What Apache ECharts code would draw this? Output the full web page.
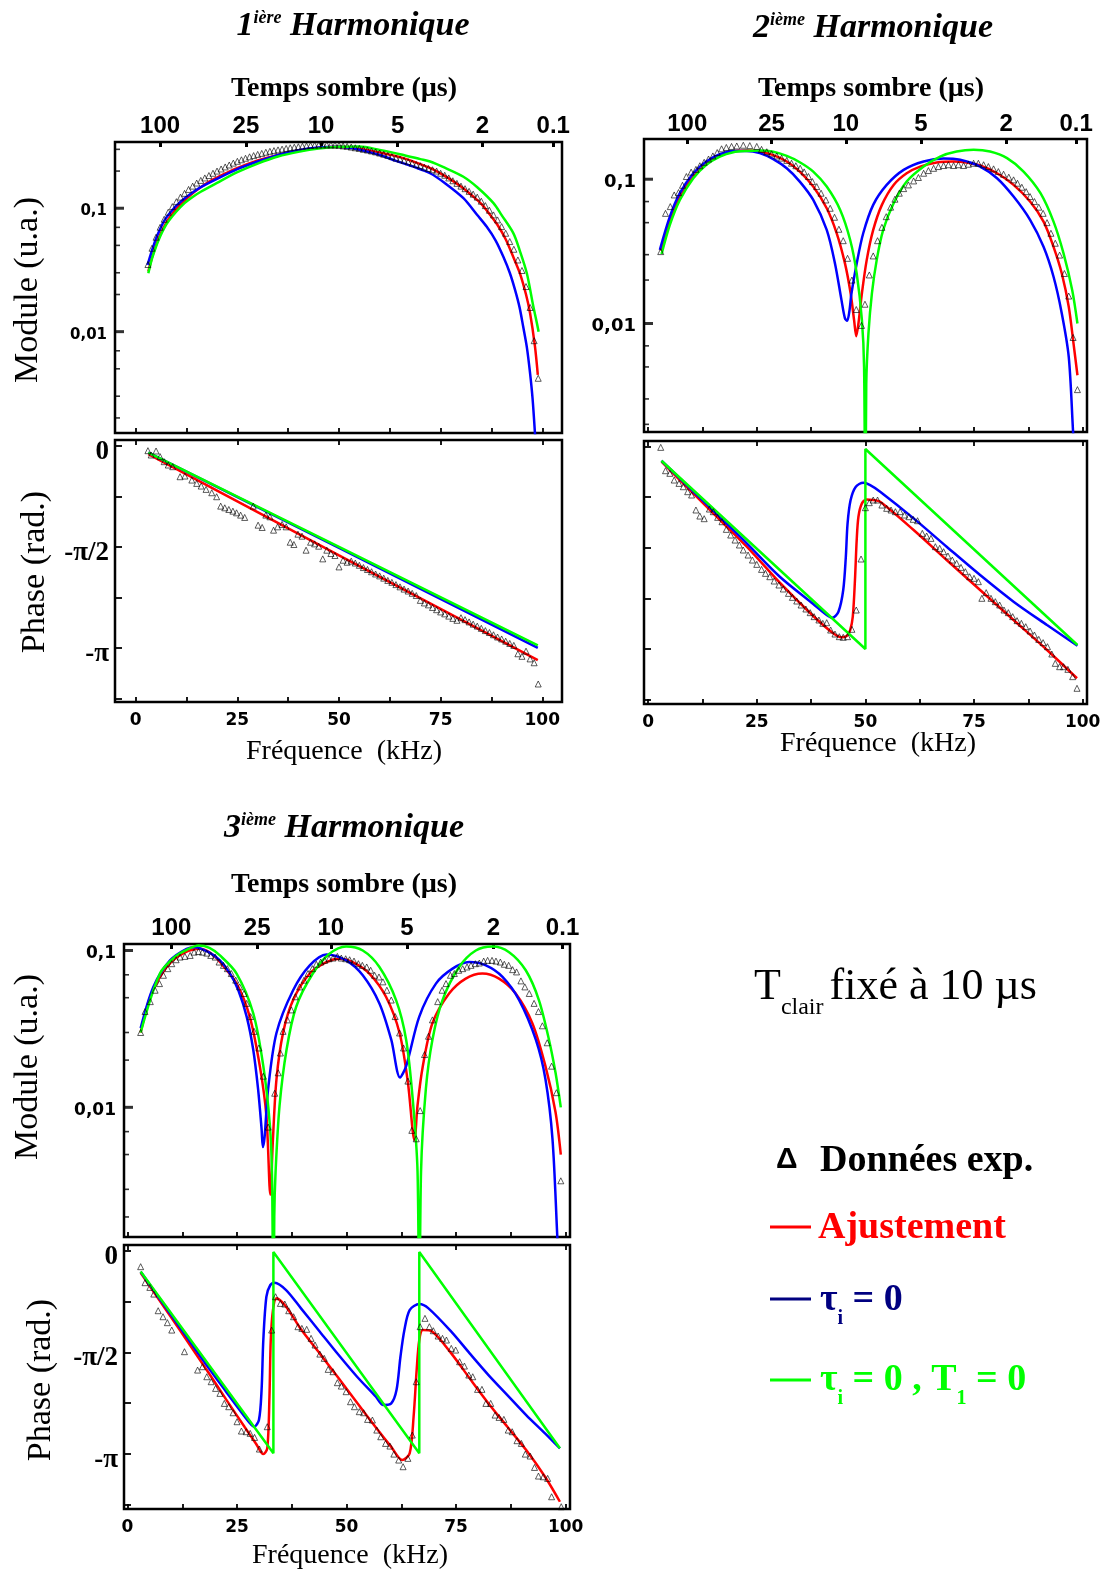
<!DOCTYPE html>
<html>
<head>
<meta charset="utf-8">
<title>Harmoniques</title>
<script src="https://cdn.jsdelivr.net/npm/echarts/dist/echarts.min.js"></script>
<style>html,body{margin:0;padding:0;background:#fff}#c{width:1109px;height:1569px}</style>
</head>
<body>
<div id="c"></div>
<script>
// ---------------- DATA ----------------
const FREQ_LABEL_TICKS = [0, 25, 50, 75, 100];
const FREQ_MINOR_TICKS = [0, 12.5, 25, 37.5, 50, 62.5, 75, 87.5, 100];
const PHASE_TICKS = [0, -Math.PI/4, -Math.PI/2, -3*Math.PI/4, -Math.PI, -5*Math.PI/4];
const PHASE_LABEL_VALUES = [0, -Math.PI/2, -Math.PI];
const PHASE_LABELS = ['0', '-π/2', '-π'];
const MODULE_LABEL_VALUES = [0.1, 0.01];
const MODULE_LABELS = ['0,1', '0,01'];
const MODULE_MINOR_TICKS = [0.002,0.003,0.005,0.007,0.01,0.02,0.03,0.05,0.07,0.1,0.2,0.3];
const TIME_LABELS = ['100','25','10','5','2','0.1'];
const h1TimeTickKHz = [6.0, 27.1, 45.6, 64.4, 85.3, 102.7];
const h2TimeTickKHz = [9.0, 28.4, 45.5, 62.8, 82.4, 98.5];
const h3TimeTickKHz = [10.0, 29.6, 46.4, 63.8, 83.5, 99.3];

// 1st harmonic - module
const h1ModData = [[3,0.035],[4,0.0474],[5,0.0582],[6,0.0701],[7,0.0814],[8,0.0928],[9,0.103],[10,0.113],[11,0.123],[12,0.132],[13,0.142],[14,0.151],[15,0.160],[16,0.168],[17,0.176],[18,0.184],[19,0.192],[20,0.200],[21,0.208],[22,0.216],[23,0.224],[24,0.232],[25,0.240],[26,0.247],[27,0.254],[28,0.261],[29,0.267],[30,0.273],[31,0.278],[32,0.284],[33,0.289],[34,0.293],[35,0.297],[36,0.301],[37,0.305],[38,0.309],[39,0.312],[40,0.315],[41,0.318],[42,0.320],[43,0.322],[44,0.324],[45,0.325],[46,0.326],[47,0.326],[48,0.326],[49,0.325],[50,0.323],[51,0.320],[52,0.317],[53,0.313],[54,0.309],[55,0.305],[56,0.300],[57,0.296],[58,0.291],[59,0.286],[60,0.280],[61,0.274],[62,0.268],[63,0.262],[64,0.255],[65,0.250],[66,0.244],[67,0.238],[68,0.232],[69,0.226],[70,0.221],[71,0.215],[72,0.210],[73,0.205],[74,0.200],[75,0.192],[76,0.185],[77,0.176],[78,0.167],[79,0.159],[80,0.151],[81,0.144],[82,0.137],[83,0.130],[84,0.123],[85,0.114],[86,0.105],[87,0.0963],[88,0.0883],[89,0.0804],[90,0.0710],[91,0.0627],[92,0.0537],[93,0.0465],[94,0.0381],[95,0.0313],[96,0.0232],[97,0.0157],[98,0.00845],[99,0.00419]];
const h1ModFit = [[3.1,0.0307],[4,0.040],[5,0.0505],[6,0.061],[7,0.071],[8,0.081],[9,0.090],[10,0.099],[12,0.1154],[14,0.1323],[16,0.148],[18,0.1635],[20,0.1772],[23,0.1983],[26,0.2178],[30,0.2434],[35,0.2706],[40,0.2935],[45,0.3084],[50,0.3142],[55,0.3040],[60,0.283],[65,0.2592],[70,0.228],[73,0.2071],[76,0.1829],[80,0.1499],[83,0.1243],[85,0.1084],[87,0.0900],[89,0.0732],[91,0.0561],[93,0.0393],[94.5,0.0297],[96,0.0200],[97,0.0141],[98.2,0.0076],[98.9,0.00446]];
const h1ModTau = [[2.9,0.0347],[4,0.0455],[5,0.057],[6,0.068],[7,0.079],[8,0.088],[10,0.105],[12,0.120],[14,0.134],[16,0.148],[20,0.1729],[25,0.2071],[30,0.239],[35,0.2706],[40,0.2953],[45,0.3103],[50,0.3142],[55,0.298],[60,0.270],[64,0.242],[68.3,0.217],[72.4,0.192],[76,0.160],[80.6,0.1205],[84,0.088],[86.3,0.071],[88.5,0.055],[90.4,0.0406],[92,0.030],[93.3,0.0218],[94.4,0.0158],[95.3,0.011],[96.2,0.0075],[97.0,0.0046],[97.6,0.0029],[98.2,0.0015],[98.5,0.001]];
const h1ModTauT = [[3.1,0.0297],[4,0.039],[5,0.049],[6,0.059],[7,0.069],[8,0.078],[10,0.094],[12,0.110],[14,0.1235],[16,0.136],[20,0.1604],[25,0.1959],[30,0.2301],[35,0.2624],[40,0.2862],[45,0.3047],[50,0.3142],[55,0.316],[60,0.297],[65,0.274],[70,0.250],[72.4,0.239],[76,0.213],[80.6,0.180],[84,0.148],[88,0.110],[90,0.088],[92.9,0.0626],[94.5,0.045],[96.2,0.0297],[97.8,0.016],[98.5,0.0125],[99.1,0.01]];
// 1st harmonic - phase
const h1PhData = [[3.0,-0.073],[3.8,-0.14],[5.0,-0.078],[6.0,-0.166],[7.0,-0.244],[8.0,-0.296],[9.1,-0.322],[10.9,-0.478],[12.1,-0.467],[13.8,-0.53],[15.0,-0.582],[16.1,-0.623],[17.3,-0.675],[18.7,-0.727],[19.9,-0.789],[20.9,-0.935],[21.9,-0.961],[22.9,-0.987],[23.9,-1.013],[24.8,-1.039],[25.8,-1.075],[26.8,-1.111],[28.9,-0.935],[30.1,-1.231],[31.1,-1.267],[32.0,-1.075],[33.0,-1.101],[33.9,-1.309],[34.9,-1.257],[36.0,-1.22],[37.0,-1.257],[38.0,-1.496],[38.9,-1.532],[39.9,-1.371],[40.9,-1.402],[41.9,-1.62],[43.0,-1.496],[44.0,-1.522],[45.0,-1.558],[46.0,-1.755],[47.0,-1.62],[48.0,-1.672],[49.0,-1.703],[50.0,-1.88],[51.0,-1.776],[52.0,-1.807],[53,-1.79],[54,-1.82],[55,-1.855],[56,-1.89],[57,-1.92],[58,-1.955],[59,-1.99],[60,-2.02],[61,-2.055],[62,-2.09],[63,-2.12],[64,-2.155],[65,-2.19],[66,-2.225],[67,-2.255],[68,-2.29],[69,-2.325],[70,-2.40],[71,-2.44],[72,-2.47],[73,-2.51],[74,-2.545],[75,-2.58],[76,-2.61],[77,-2.645],[78,-2.68],[79,-2.71],[80,-2.67],[81,-2.70],[82,-2.735],[83,-2.77],[84,-2.80],[85,-2.835],[86,-2.87],[87,-2.90],[88,-2.935],[89,-2.97],[90,-3.00],[91,-3.035],[92,-3.07],[93,-3.10],[94,-3.23],[95,-3.27],[96,-3.19],[97,-3.31],[98,-3.37],[99,-3.70]];
const h1PhFit = [[3.1,-0.125],[50,-1.70],[98.9,-3.33]];
const h1PhTau = [[3.1,-0.104],[50,-1.585],[98.9,-3.14]];
const h1PhTauT = [[3.1,-0.104],[50,-1.57],[98.9,-3.10]];

// 2nd harmonic - module
const h2ModData = [[2.9,0.0315],[4.0,0.058],[5.1,0.0646],[6.0,0.0778],[7.0,0.0808],[7.9,0.0908],[8.8,0.1044],[9.9,0.112],[11.0,0.117],[11.9,0.124],[12.9,0.131],[13.9,0.138],[14.9,0.145],[15.9,0.153],[16.9,0.1625],[18.0,0.166],[19.2,0.1687],[20.4,0.170],[21.9,0.172],[23.4,0.171],[25.0,0.1687],[26.1,0.161],[27.3,0.155],[28.4,0.150],[29.6,0.145],[30.7,0.140],[31.9,0.135],[33.0,0.129],[34.0,0.124],[35.0,0.119],[35.9,0.1124],[36.9,0.1044],[37.8,0.0963],[38.8,0.0889],[39.8,0.080],[40.9,0.0718],[41.9,0.0629],[42.9,0.0545],[43.9,0.045],[44.9,0.0375],[45.9,0.0283],[46.9,0.020],[47.9,0.0125],[49.1,0.0097],[49.9,0.0136],[50.9,0.0217],[51.8,0.0294],[52.8,0.0375],[53.8,0.0464],[54.8,0.055],[55.8,0.064],[56.8,0.0727],[57.8,0.080],[58.8,0.0861],[59.9,0.0913],[61.1,0.0973],[62.2,0.1028],[63.4,0.110],[64.5,0.1148],[65.7,0.119],[66.8,0.1224],[68.0,0.1244],[69.1,0.126],[70.3,0.1244],[71.4,0.126],[72.6,0.1244],[73.7,0.127],[74.9,0.129],[76.0,0.129],[77.2,0.126],[78.3,0.1224],[79.5,0.118],[80.6,0.113],[81.8,0.1083],[83.0,0.1033],[84.1,0.099],[85.0,0.0938],[86.0,0.088],[87.0,0.082],[87.9,0.0758],[88.9,0.070],[89.9,0.064],[90.9,0.058],[91.8,0.050],[92.7,0.0422],[93.7,0.036],[94.7,0.0298],[95.8,0.0222],[96.8,0.0155],[97.8,0.008],[98.8,0.00348]];
const h2ModFit = [[2.9,0.032],[5.0,0.0523],[7.3,0.0758],[10.4,0.1044],[13.4,0.1276],[16.5,0.145],[19.6,0.1556],[22.7,0.158],[25.7,0.1556],[28.8,0.1469],[31.9,0.1327],[34.9,0.113],[38.0,0.0889],[41.1,0.0629],[43.4,0.0422],[45.3,0.0261],[46.6,0.0162],[47.4,0.01055],[47.9,0.00817],[48.4,0.01],[49.2,0.0162],[50.3,0.0275],[51.8,0.0445],[53.8,0.0664],[56.5,0.0913],[59.5,0.110],[62.6,0.1224],[66.4,0.1306],[70.3,0.1327],[73.3,0.1306],[76.4,0.1244],[80.3,0.110],[84.1,0.0913],[87.9,0.070],[91.0,0.0508],[93.3,0.034],[95.2,0.0222],[96.8,0.01306],[97.9,0.00726],[98.8,0.00438]];
const h2ModTau = [[2.7,0.0324],[5.0,0.055],[7.3,0.080],[10.4,0.110],[13.4,0.1327],[16.5,0.149],[19.6,0.157],[22.7,0.157],[25.7,0.1517],[28.8,0.1377],[31.9,0.119],[34.9,0.0963],[38.0,0.0718],[41.1,0.0445],[43.0,0.0261],[44.5,0.01452],[45.3,0.01084],[45.8,0.01044],[46.3,0.01206],[46.8,0.0162],[48.0,0.0261],[49.5,0.0422],[51.8,0.0664],[54.9,0.0913],[58.8,0.116],[63.4,0.1327],[68.0,0.1393],[71.8,0.1363],[76.4,0.1224],[80.3,0.1016],[84.1,0.0758],[87.9,0.0523],[91.0,0.034],[93.3,0.0211],[95.2,0.01175],[96.8,0.00587],[97.8,0.00177],[98.1,0.00126]];
const h2ModTauT = [[3.1,0.0303],[5.0,0.0482],[7.3,0.0718],[10.4,0.1016],[13.4,0.1259],[16.5,0.1436],[19.6,0.154],[22.7,0.157],[25.7,0.158],[28.8,0.155],[31.9,0.145],[34.9,0.1312],[38.0,0.113],[41.1,0.0889],[44.2,0.0612],[46.5,0.0379],[48.0,0.0222],[49.2,0.01055],[49.7,0.005],[50.0,0.0003],[50.2,0.0038],[50.7,0.0085],[51.5,0.0162],[52.6,0.0275],[54.1,0.0445],[56.5,0.0681],[59.5,0.0963],[63.4,0.1224],[67.2,0.1436],[71.0,0.1556],[74.9,0.16],[78.7,0.1556],[82.6,0.140],[86.4,0.113],[90.3,0.080],[93.3,0.0508],[95.6,0.0306],[97.6,0.017],[98.8,0.01]];
// 2nd harmonic - phase
const h2PhData = [[2.9,-0.01],[4.0,-0.373],[5.0,-0.414],[6.0,-0.518],[7.1,-0.57],[8.1,-0.622],[9.1,-0.699],[10.0,-0.751],[11.0,-0.984],[11.9,-1.078],[12.9,-1.119],[14.1,-0.969],[15.0,-1.01],[16.0,-1.098],[17.0,-1.166],[18.0,-1.285],[19.0,-1.373],[20.0,-1.451],[21.0,-1.528],[21.9,-1.606],[23.0,-1.684],[24.0,-1.762],[25.0,-1.829],[26.1,-1.907],[27.0,-1.969],[28.0,-2.021],[29.0,-2.088],[30.1,-2.15],[31.1,-2.212],[32.3,-2.28],[33.2,-2.342],[34.2,-2.399],[35.2,-2.461],[36.3,-2.523],[37.3,-2.58],[38.2,-2.642],[39.3,-2.694],[40.2,-2.746],[41.1,-2.736],[42.0,-2.85],[43.0,-2.912],[44.0,-2.953],[44.9,-2.963],[45.9,-2.953],[46.9,-2.839],[47.9,-2.539],[49.0,-1.746],[50.0,-0.948],[50.9,-0.870],[51.8,-0.829],[52.8,-0.829],[53.8,-0.907],[54.9,-0.958],[55.9,-0.984],[56.9,-1.01],[58.0,-1.01],[59.0,-1.062],[60.0,-1.088],[61.0,-1.129],[62.0,-1.150],[63.1,-1.347],[64.1,-1.388],[65.1,-1.425],[66.1,-1.554],[67.1,-1.580],[68.0,-1.632],[69.0,-1.699],[70.0,-1.762],[71.0,-1.813],[72.0,-1.876],[73.0,-1.943],[74.0,-2.021],[75.0,-2.046],[76.0,-2.098],[76.8,-2.357],[77.8,-2.269],[78.9,-2.357],[79.9,-2.409],[80.9,-2.461],[81.9,-2.539],[82.9,-2.58],[83.9,-2.642],[84.9,-2.704],[85.9,-2.746],[86.9,-2.798],[87.9,-2.865],[88.9,-2.927],[89.9,-2.995],[90.9,-3.046],[91.9,-3.109],[92.9,-3.223],[93.7,-3.368],[94.7,-3.42],[95.6,-3.42],[96.6,-3.461],[97.7,-3.575],[98.7,-3.756]];
const h2PhFit = [[3.07,-0.233],[7.3,-0.518],[15.0,-1.036],[22.7,-1.554],[30.3,-2.114],[38.0,-2.632],[42.6,-2.901],[44.5,-2.963],[45.7,-2.943],[46.5,-2.85],[47.1,-2.642],[47.6,-2.072],[48.0,-1.451],[48.4,-1.088],[49.2,-0.881],[50.3,-0.819],[51.8,-0.829],[53.4,-0.855],[61.1,-1.295],[68.7,-1.762],[76.4,-2.228],[84.1,-2.694],[91.8,-3.16],[98.7,-3.60]];
const h2PhTau = [[3.07,-0.218],[7.3,-0.492],[15.0,-0.995],[22.7,-1.502],[30.3,-2.021],[38.0,-2.445],[41.1,-2.616],[42.4,-2.658],[43.8,-2.565],[44.9,-2.228],[45.5,-1.71],[45.9,-1.192],[46.6,-0.829],[47.8,-0.622],[49.5,-0.56],[51.1,-0.596],[53.4,-0.699],[61.1,-1.114],[68.7,-1.554],[76.4,-1.995],[84.1,-2.409],[91.8,-2.772],[98.8,-3.093]];
const h2PhTauT = [[3.07,-0.218],[50.0,-3.145],[50.0,-0.036],[98.8,-3.083]];

// 3rd harmonic - module
const h3ModData = [[3.0,0.030],[4.0,0.0408],[5.2,0.0472],[6.3,0.0558],[7.3,0.0615],[8.2,0.0695],[9.2,0.0766],[10.1,0.0824],[11.1,0.0873],[12.0,0.0908],[13.1,0.0917],[14.3,0.093],[15.2,0.0976],[16.2,0.0985],[17.1,0.0976],[18.1,0.0962],[19.0,0.093],[20.0,0.0908],[20.9,0.0844],[21.9,0.0804],[22.8,0.0766],[23.7,0.0713],[24.7,0.0647],[25.6,0.0586],[26.6,0.0532],[27.2,0.046],[28.1,0.0379],[28.9,0.0305],[30.0,0.0239],[31.0,0.0158],[32.1,0.00748],[33.6,0.0123],[34.4,0.0166],[34.9,0.0222],[35.5,0.0305],[36.5,0.0361],[37.4,0.0418],[38.3,0.0507],[39.3,0.0586],[40.3,0.0647],[41.2,0.0713],[42.2,0.0766],[43.1,0.0817],[44.1,0.0844],[45.0,0.0865],[46.0,0.0886],[46.9,0.0895],[47.9,0.0917],[48.8,0.0895],[49.8,0.0886],[50.7,0.0873],[51.7,0.0856],[52.7,0.0824],[53.6,0.0804],[54.6,0.0785],[55.5,0.0748],[56.4,0.0695],[57.4,0.0678],[58.3,0.0631],[59.2,0.0558],[60.2,0.0483],[61.1,0.0379],[62.1,0.0298],[63.0,0.0239],[64.0,0.0147],[64.9,0.00713],[65.9,0.0063],[66.8,0.00953],[67.8,0.0217],[68.7,0.0284],[69.6,0.0361],[70.8,0.0472],[71.8,0.0558],[72.7,0.0615],[73.7,0.0695],[74.6,0.0713],[75.6,0.0748],[76.5,0.0766],[77.5,0.0785],[78.4,0.0804],[79.4,0.0824],[80.3,0.0832],[81.3,0.0856],[82.2,0.0865],[83.2,0.0865],[84.1,0.0856],[85.1,0.0844],[86.0,0.0817],[87.0,0.0804],[87.9,0.0755],[88.8,0.073],[89.8,0.064],[90.7,0.0586],[91.7,0.0532],[92.8,0.046],[93.8,0.0408],[94.7,0.0331],[95.8,0.0258],[96.8,0.0183],[97.9,0.0124],[98.9,0.0034]];
const h3ModFit = [[3.0,0.030],[5.0,0.049],[7.4,0.068],[10.0,0.0845],[13.0,0.097],[16.5,0.1026],[18.8,0.097],[21.1,0.0844],[24.9,0.0615],[27.9,0.0379],[30.2,0.0183],[31.7,0.00885],[32.6,0.00277],[33.2,0.0063],[34.0,0.0151],[35.5,0.0298],[37.8,0.0483],[41.6,0.0713],[45.4,0.0844],[48.4,0.0886],[51.4,0.0844],[55.2,0.0713],[59.0,0.0507],[62.1,0.0298],[64.0,0.0144],[65.5,0.00617],[66.2,0.0103],[67.4,0.0183],[69.6,0.0344],[73.4,0.0532],[77.2,0.0662],[81.0,0.0713],[84.8,0.0662],[88.6,0.0532],[92.4,0.0344],[95.4,0.0183],[97.7,0.0093],[98.9,0.005]];
const h3ModTau = [[3.0,0.032],[5.9,0.0586],[9.7,0.0865],[13.5,0.1026],[15.4,0.105],[18.5,0.0976],[21.1,0.0865],[23.4,0.0713],[25.3,0.0558],[27.2,0.0379],[28.7,0.0233],[29.8,0.0131],[30.6,0.0073],[30.9,0.00558],[31.3,0.0065],[32.1,0.0131],[34.0,0.0298],[37.8,0.0558],[41.6,0.0804],[45.4,0.0944],[49.9,0.0865],[53.7,0.0695],[57.5,0.046],[60.2,0.027],[62.2,0.0155],[63.6,0.0183],[66.6,0.0379],[70.4,0.0615],[74.2,0.0766],[78.0,0.0844],[81.8,0.0804],[85.6,0.0679],[89.4,0.0483],[93.2,0.027],[95.4,0.0151],[97.0,0.0063],[98.1,0.0015],[98.4,0.001]];
const h3ModTauT = [[3.0,0.030],[7.4,0.0713],[11.0,0.092],[13.5,0.101],[16.2,0.1076],[18.7,0.104],[21.1,0.093],[24.9,0.0713],[28.7,0.0398],[31.0,0.0183],[32.5,0.00766],[33.0,0.0035],[33.3,0.0003],[33.5,0.002],[33.8,0.0039],[34.7,0.0102],[36.3,0.0233],[38.5,0.0438],[42.3,0.0713],[46.1,0.0953],[49.9,0.106],[53.7,0.1],[57.5,0.0785],[61.3,0.0483],[63.6,0.027],[65.1,0.0113],[66.2,0.0039],[66.6,0.0003],[67.0,0.0039],[68.1,0.0131],[69.6,0.027],[71.9,0.0483],[75.7,0.0785],[79.5,0.1],[83.3,0.106],[87.1,0.0976],[90.9,0.0748],[93.9,0.0483],[96.2,0.027],[97.7,0.0166],[98.9,0.01]];
// 3rd harmonic - phase
const h3PhData = [[3.0,-0.247],[4.0,-0.494],[5.1,-0.567],[6.0,-0.67],[7.0,-0.927],[8.1,-1.02],[9.1,-1.112],[10.1,-1.226],[13.0,-1.56],[16.0,-1.844],[17.1,-1.792],[18.1,-1.947],[19.1,-2.024],[20.1,-2.127],[21.1,-2.204],[22.1,-2.359],[23.1,-2.41],[24.1,-2.503],[25.0,-2.642],[26.0,-2.786],[27.1,-2.796],[28.0,-2.822],[29.0,-2.884],[30.1,-3.064],[31.9,-2.719],[32.9,-1.226],[33.8,-0.711],[34.9,-0.814],[35.9,-0.824],[36.8,-0.927],[37.9,-1.02],[38.9,-1.174],[39.8,-1.2],[40.9,-1.215],[41.9,-1.354],[42.8,-1.457],[43.9,-1.597],[44.9,-1.663],[45.8,-1.833],[46.9,-1.869],[47.9,-2.039],[48.8,-2.091],[49.9,-2.178],[50.9,-2.333],[51.8,-2.41],[52.9,-2.487],[53.9,-2.503],[54.8,-2.606],[55.9,-2.616],[56.9,-2.771],[57.8,-2.874],[58.9,-2.977],[59.9,-3.018],[60.8,-3.142],[61.9,-3.234],[62.9,-3.337],[64.0,-3.208],[65.0,-2.848],[65.9,-2.024],[66.8,-1.174],[67.9,-1.045],[68.9,-1.174],[69.8,-1.236],[70.9,-1.318],[71.9,-1.354],[72.8,-1.38],[73.9,-1.509],[74.9,-1.535],[75.8,-1.715],[76.9,-1.782],[77.9,-1.921],[78.8,-1.947],[79.9,-2.142],[80.9,-2.142],[81.8,-2.359],[82.9,-2.359],[83.9,-2.539],[84.8,-2.575],[85.9,-2.606],[86.9,-2.771],[87.8,-2.796],[88.9,-2.935],[89.9,-2.977],[90.8,-3.142],[91.9,-3.172],[92.9,-3.348],[93.8,-3.481],[94.9,-3.492],[95.9,-3.517],[96.8,-3.801],[99.0,-3.955]];
const h3PhFit = [[3.0,-0.34],[9.6,-0.994],[13.9,-1.421],[18.2,-1.854],[22.5,-2.297],[26.7,-2.719],[29.3,-2.977],[31.0,-3.142],[31.9,-3.054],[32.4,-2.256],[32.7,-1.38],[33.2,-0.917],[34.0,-0.736],[36.2,-0.865],[39.6,-1.215],[43.9,-1.59],[48.2,-1.97],[52.4,-2.35],[56.7,-2.73],[60.2,-3.03],[62.7,-3.234],[64.4,-3.131],[65.3,-2.565],[66.0,-1.844],[66.6,-1.38],[67.4,-1.226],[69.6,-1.251],[73.9,-1.586],[78.1,-1.972],[82.4,-2.359],[86.7,-2.719],[91.0,-3.08],[95.3,-3.492],[98.7,-3.878]];
const h3PhTau = [[3.0,-0.324],[9.6,-0.958],[13.9,-1.37],[18.2,-1.782],[22.5,-2.178],[25.9,-2.487],[28.0,-2.668],[28.9,-2.719],[30.0,-2.616],[30.6,-2.153],[31.0,-1.38],[31.7,-0.711],[32.6,-0.53],[33.6,-0.494],[36.2,-0.608],[39.6,-0.891],[43.9,-1.251],[48.2,-1.612],[52.4,-1.947],[56.7,-2.256],[58.4,-2.384],[60.2,-2.359],[61.4,-2.153],[62.3,-1.638],[63.2,-1.226],[64.4,-0.917],[66.6,-0.824],[68.7,-0.891],[73.9,-1.251],[78.1,-1.586],[82.4,-1.921],[86.7,-2.23],[91.0,-2.539],[95.3,-2.822],[98.7,-3.054]];
const h3PhTauT = [[3.0,-0.32],[33.3,-3.13],[33.3,-0.02],[66.6,-3.13],[66.6,-0.02],[98.7,-3.05]];

// ---------------- CHART ----------------
const SERIF = '"Liberation Serif","Times New Roman",serif';
const SANS = '"Liberation Sans",Arial,sans-serif';
const WIDE = '"DejaVu Sans",sans-serif';
const RED = '#ff0000', BLUE = '#0000ff', GREEN = '#00ff00', NAVY = '#000080';

const panels = [
  { mod:{left:115,top:142,width:447,height:291}, ph:{left:115,top:440,width:447,height:262},
    xMin:-5.1, xMax:104.85, modMin:0.00151, modMax:0.344, phMin:-3.98, phMax:0.093,
    timeTicks:h1TimeTickKHz, timeMargin:4, modLabelSize:15, phLabels:true, phSmooth:false,
    M:[h1ModData,h1ModFit,h1ModTau,h1ModTauT], P:[h1PhData,h1PhFit,h1PhTau,h1PhTauT] },
  { mod:{left:644,top:139,width:443,height:293}, ph:{left:644,top:441,width:443,height:263},
    xMin:-0.95, xMax:101.0, modMin:0.00177, modMax:0.19, phMin:-4.0, phMax:0.089,
    timeTicks:h2TimeTickKHz, timeMargin:3, modLabelSize:18, phLabels:false, phSmooth:0.3,
    M:[h2ModData,h2ModFit,h2ModTau,h2ModTauT], P:[h2PhData,h2PhFit,h2PhTau,h2PhTauT] },
  { mod:{left:124,top:944,width:446,height:293}, ph:{left:124,top:1245,width:446,height:264},
    xMin:-0.8, xMax:101.0, modMin:0.00149, modMax:0.110, phMin:-3.99, phMax:0.088,
    timeTicks:h3TimeTickKHz, timeMargin:4, modLabelSize:17, phLabels:true, phSmooth:0.3,
    M:[h3ModData,h3ModFit,h3ModTau,h3ModTauT], P:[h3PhData,h3PhFit,h3PhTau,h3PhTauT] }
];

function findLabel(v, vals, labels, tol) {
  for (let i = 0; i < vals.length; i++) if (Math.abs(v - vals[i]) < tol) return labels[i];
  return '';
}

const grid = [], xAxis = [], yAxis = [], series = [];
const tickLine = {color:'#000', width:1.8};
const noLine = {show:false, onZero:false};

panels.forEach((p, i) => {
  const gm = 2*i, gp = 2*i+1;
  grid.push(Object.assign({show:true, borderColor:'#000', borderWidth:2.5, backgroundColor:'transparent'}, p.mod));
  grid.push(Object.assign({show:true, borderColor:'#000', borderWidth:2.5, backgroundColor:'transparent'}, p.ph));
  const baseX = {type:'value', min:p.xMin, max:p.xMax, axisLine:noLine, splitLine:{show:false}};
  xAxis.push(Object.assign({}, baseX, {gridIndex:gm, position:'bottom', axisLabel:{show:false},
    axisTick:{show:true, inside:true, length:5, lineStyle:tickLine, customValues:FREQ_MINOR_TICKS}}));
  xAxis.push(Object.assign({}, baseX, {gridIndex:gm, position:'top',
    axisLabel:{show:true, customValues:p.timeTicks, margin:p.timeMargin, fontFamily:SANS, fontWeight:'bold', fontSize:24, color:'#000',
      formatter:(v)=>findLabel(v, p.timeTicks, TIME_LABELS, 1e-6)},
    axisTick:{show:true, inside:true, length:5, lineStyle:{color:'#000', width:3}, customValues:p.timeTicks}}));
  xAxis.push(Object.assign({}, baseX, {gridIndex:gp, position:'bottom',
    axisLabel:{show:true, customValues:FREQ_LABEL_TICKS, margin:10, fontFamily:WIDE, fontWeight:'bold', fontSize:17, color:'#000'},
    axisTick:{show:true, inside:true, length:5, lineStyle:tickLine, customValues:FREQ_MINOR_TICKS}}));
  xAxis.push(Object.assign({}, baseX, {gridIndex:gp, position:'top', axisLabel:{show:false},
    axisTick:{show:true, inside:true, length:5, lineStyle:tickLine, customValues:FREQ_LABEL_TICKS}}));
  yAxis.push({type:'log', logBase:10, gridIndex:gm, min:p.modMin, max:p.modMax, position:'left',
    axisLine:noLine, splitLine:{show:false}, axisTick:{show:false}, minorTick:{show:false},
    axisLabel:{show:true, margin:8, verticalAlign:'top', lineHeight:6, fontFamily:WIDE, fontWeight:'bold', fontSize:p.modLabelSize, color:'#000',
      formatter:(v)=>findLabel(v, MODULE_LABEL_VALUES, MODULE_LABELS, 1e-7), showMinLabel:false, showMaxLabel:false}});
  yAxis.push({type:'value', gridIndex:gp, min:p.phMin, max:p.phMax, position:'left',
    axisLine:noLine, splitLine:{show:false},
    axisTick:{show:true, inside:true, length:7, lineStyle:tickLine, customValues:PHASE_TICKS},
    axisLabel:{show:p.phLabels, customValues:PHASE_LABEL_VALUES, margin:6, verticalAlign:'top', lineHeight:12, fontFamily:SERIF, fontWeight:'bold', fontSize:27, color:'#000',
      formatter:(v)=>findLabel(v, PHASE_LABEL_VALUES, PHASE_LABELS, 1e-6)}});

  const xm = 4*i, xp = 4*i+2;
  series.push({type:'scatter', xAxisIndex:xm, yAxisIndex:gm, silent:true, clip:false, z:6,
    itemStyle:{color:'#000'}, symbol:'rect',
    data: MODULE_MINOR_TICKS.filter(v => v >= p.modMin && v <= p.modMax).map(v => {
      const major = MODULE_LABEL_VALUES.indexOf(v) >= 0;
      return {value:[p.xMin, v], symbolSize: major ? [9,3] : [5,1.6], symbolOffset: major ? [4.5,0] : [2.5,0]};
    })});

  const addSet = (sets, xi, yi, smooth, smoothGreen) => {
    const [dat, fit, tau, tauT] = sets;
    const lineBase = {type:'line', xAxisIndex:xi, yAxisIndex:yi, showSymbol:false, symbol:'none', silent:true,
      smooth:smooth, clip:true};
    series.push(Object.assign({}, lineBase, {data:fit, lineStyle:{color:RED, width:2.5}, z:2}));
    series.push(Object.assign({}, lineBase, {data:tau, lineStyle:{color:BLUE, width:2.5}, z:3}));
    series.push(Object.assign({}, lineBase, {data:tauT, smooth:smoothGreen, lineStyle:{color:GREEN, width:2.5}, z:4}));
    series.push({type:'scatter', xAxisIndex:xi, yAxisIndex:yi, data:dat, symbol:'triangle', symbolSize:6, silent:true, z:5,
      itemStyle:{color:'rgba(255,255,255,0)', borderColor:'#000', borderWidth:0.8}});
  };
  addSet(p.M, xm, gm, 0.3, 0.3);
  addSet(p.P, xp, gp, p.phSmooth, false);
});

function titleEl(x, y, num, sup) {
  return {type:'text', x:x, y:y, style:{text:'{n|'+num+'}{s|'+sup+'}{n| Harmonique}', align:'center', verticalAlign:'middle',
    fontFamily:SERIF, fontWeight:'bold', fontStyle:'italic', fontSize:34, fill:'#000',
    rich:{ n:{fontFamily:SERIF, fontWeight:'bold', fontStyle:'italic', fontSize:34, lineHeight:34, verticalAlign:'top', fill:'#000'},
           s:{fontFamily:SERIF, fontWeight:'bold', fontStyle:'italic', fontSize:18, lineHeight:18, verticalAlign:'top', fill:'#000'} }}};
}
function plainText(x, y, text, size, weight, rot) {
  return {type:'text', x:x, y:y, rotation:rot||0, style:{text:text, align:'center', verticalAlign:'middle',
    fontFamily:SERIF, fontWeight:weight, fontSize:size, fill:'#000'}};
}
function subText(x, yTop, parts, size, subSize, pad, color, weight) {
  const txt = parts.map(pt => '{'+pt[0]+'|'+pt[1]+'}').join('');
  return {type:'text', x:x, y:yTop, style:{text:txt, align:'left', verticalAlign:'top',
    fontFamily:SERIF, fontWeight:weight, fontSize:size, fill:color,
    rich:{ m:{fontFamily:SERIF, fontWeight:weight, fontSize:size, lineHeight:size, verticalAlign:'top', fill:color},
           s:{fontFamily:SERIF, fontWeight:weight, fontSize:subSize, lineHeight:subSize, verticalAlign:'top', padding:[pad,0,0,0], fill:color} }}};
}

const graphic = [
  titleEl(353, 26, '1', 'ière'),
  titleEl(873, 28, '2', 'ième'),
  titleEl(344, 828, '3', 'ième'),
  plainText(344, 89, 'Temps sombre (µs)', 28, 'bold'),
  plainText(871, 89, 'Temps sombre (µs)', 28, 'bold'),
  plainText(344, 885, 'Temps sombre (µs)', 28, 'bold'),
  plainText(28, 290, 'Module (u.a.)', 34, 'normal', Math.PI/2),
  plainText(28, 1067, 'Module (u.a.)', 34, 'normal', Math.PI/2),
  plainText(35, 572, 'Phase (rad.)', 34, 'normal', Math.PI/2),
  plainText(41, 1380, 'Phase (rad.)', 34, 'normal', Math.PI/2),
  plainText(344, 752, 'Fréquence  (kHz)', 28, 'normal'),
  plainText(878, 744, 'Fréquence  (kHz)', 28, 'normal'),
  plainText(350, 1556, 'Fréquence  (kHz)', 28, 'normal'),
  subText(754, 965, [['m','T'],['s','clair '],['m','fixé à 10 µs']], 44, 24, 31, '#000', 'normal'),
  {type:'text', x:776, y:1160, style:{text:'Δ', align:'left', verticalAlign:'middle', fontFamily:SANS, fontWeight:'bold', fontSize:30, fill:'#000'}},
  {type:'text', x:820, y:1161, style:{text:'Données exp.', align:'left', verticalAlign:'middle', fontFamily:SERIF, fontWeight:'bold', fontSize:38, fill:'#000'}},
  {type:'line', shape:{x1:770, y1:1227, x2:811, y2:1227}, style:{stroke:RED, lineWidth:3}},
  {type:'text', x:818, y:1228, style:{text:'Ajustement', align:'left', verticalAlign:'middle', fontFamily:SERIF, fontWeight:'bold', fontSize:38, fill:RED}},
  {type:'line', shape:{x1:770, y1:1299, x2:811, y2:1299}, style:{stroke:NAVY, lineWidth:3}},
  subText(820, 1281, [['m','τ'],['s','i'],['m',' = 0']], 38, 20, 28, NAVY, 'bold'),
  {type:'line', shape:{x1:770, y1:1380, x2:811, y2:1380}, style:{stroke:GREEN, lineWidth:3}},
  subText(820, 1361, [['m','τ'],['s','i'],['m',' = 0 , T'],['s','1'],['m',' = 0']], 38, 20, 28, GREEN, 'bold')
];

const chart = echarts.init(document.getElementById('c'), null, {renderer:'canvas', devicePixelRatio:1});
chart.setOption({animation:false, backgroundColor:'#fff', grid, xAxis, yAxis, series, graphic});
</script>
</body>
</html>
